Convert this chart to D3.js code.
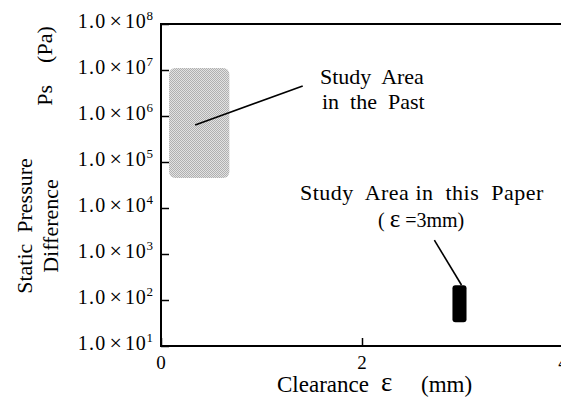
<!DOCTYPE html>
<html><head><meta charset="utf-8">
<script src="https://cdn.jsdelivr.net/npm/d3@7"></script>
<style>
html,body{margin:0;padding:0;background:#fff;}
svg{display:block;}
text{font-family:"Liberation Serif","Times New Roman",serif;fill:#000;}
</style></head>
<body>
<svg id="chart" width="561" height="397"></svg>
<script>
// ---- data ----
const xTicks = [0, 2, 4];
const yTickExps = [1, 2, 3, 4, 5, 6, 7, 8];
const pastArea = {x0: 0.08, x1: 0.68, y0: 4.5e4, y1: 1.1e7};
const paperArea = {x0: 2.90, x1: 3.04, y0: 33, y1: 210};
const pastLeader = [[0.34, 6.4e5], [1.41, 4.5e6]];
const paperLeader = [[2.72, 2.0e3], [2.99, 212]];
const pastLabel = ["Study  Area", "in  the  Past"];
const paperLabel = ["Study  Area in  this  Paper"];

const svg = d3.select("#chart");
const x = d3.scaleLinear().domain([0, 4]).range([161, 563]);
const y = d3.scaleLog().domain([1e1, 1e8]).range([346, 24]);

// pattern for dithered gray
const defs = svg.append("defs");
const pat = defs.append("pattern").attr("id", "dither")
  .attr("patternUnits", "userSpaceOnUse").attr("width", 2).attr("height", 2);
pat.append("rect").attr("width", 2).attr("height", 2).attr("fill", "#e2e2e2");
pat.append("rect").attr("width", 1).attr("height", 1).attr("fill", "#b0b0b0");
pat.append("rect").attr("x", 1).attr("y", 1).attr("width", 1).attr("height", 1).attr("fill", "#b0b0b0");

// areas
svg.append("rect")
  .attr("x", x(pastArea.x0)).attr("y", y(pastArea.y1))
  .attr("width", x(pastArea.x1) - x(pastArea.x0))
  .attr("height", y(pastArea.y0) - y(pastArea.y1))
  .attr("rx", 6).attr("fill", "url(#dither)");

svg.append("rect")
  .attr("x", x(paperArea.x0)).attr("y", y(paperArea.y1))
  .attr("width", x(paperArea.x1) - x(paperArea.x0))
  .attr("height", y(paperArea.y0) - y(paperArea.y1))
  .attr("rx", 3).attr("fill", "#000");

// leader lines
const line = d3.line().x(d => x(d[0])).y(d => y(d[1]));
svg.append("path").attr("d", line(pastLeader)).attr("stroke", "#000").attr("stroke-width", 1.6).attr("fill", "none");
svg.append("path").attr("d", line(paperLeader)).attr("stroke", "#000").attr("stroke-width", 1.6).attr("fill", "none");

// axes
const axisG = svg.append("g");
const yAxis = d3.axisRight(y).tickValues(yTickExps.map(e => Math.pow(10, e))).tickSize(8).tickFormat("");
const ya = axisG.append("g").attr("transform", "translate(161,0)").call(yAxis);
ya.select(".domain").remove();
ya.selectAll(".tick line").attr("stroke-width", 1.5);

const xAxis = d3.axisTop(x).tickValues(xTicks).tickSize(8).tickFormat("");
const xa = axisG.append("g").attr("transform", "translate(0,346)").call(xAxis);
xa.select(".domain").remove();
xa.selectAll(".tick line").attr("stroke-width", 1.5);

// frame lines
axisG.append("line").attr("x1", 161).attr("x2", 161).attr("y1", 23).attr("y2", 347).attr("stroke", "#000").attr("stroke-width", 2);
axisG.append("line").attr("x1", 160).attr("x2", 563).attr("y1", 346).attr("y2", 346).attr("stroke", "#000").attr("stroke-width", 2);
axisG.append("line").attr("x1", 160).attr("x2", 563).attr("y1", 24).attr("y2", 24).attr("stroke", "#000").attr("stroke-width", 2);

// y tick labels
yTickExps.forEach(e => {
  const t = svg.append("text").attr("x", 153).attr("y", y(Math.pow(10, e)) + 4)
    .attr("text-anchor", "end").attr("font-size", 20);
  t.append("tspan").attr("letter-spacing", 1.2).text("1.0");
  t.append("tspan").attr("dx", 3).attr("font-size", 22).text("\u00d7");
  t.append("tspan").attr("dx", 3).attr("letter-spacing", 0.8).text("10");
  t.append("tspan").attr("font-size", 13).attr("dy", -8).text(e);
});

// x tick labels
xTicks.forEach(v => {
  svg.append("text").attr("x", x(v)).attr("y", 369).attr("text-anchor", "middle")
    .attr("font-size", 19).text(v);
});

// x title
svg.append("text").attr("x", 277).attr("y", 392).attr("font-size", 23).text("Clearance");
svg.append("text").attr("x", 381).attr("y", 391).attr("font-size", 27).text("\u03b5");
svg.append("text").attr("x", 421).attr("y", 392).attr("font-size", 23).text("(mm)");

// y title
svg.append("text").attr("transform", "translate(52,66) rotate(-90)").attr("text-anchor", "middle")
  .attr("font-size", 22).attr("xml:space", "preserve").text("Ps    (Pa)");
svg.append("text").attr("transform", "translate(32,226) rotate(-90)").attr("text-anchor", "middle")
  .attr("font-size", 22).attr("xml:space", "preserve").text("Static  Pressure");
svg.append("text").attr("transform", "translate(58,226) rotate(-90)").attr("text-anchor", "middle")
  .attr("font-size", 22).text("Difference");

// annotations
svg.append("text").attr("x", 320).attr("y", 84).attr("font-size", 22).attr("xml:space", "preserve").text(pastLabel[0]);
svg.append("text").attr("x", 322).attr("y", 109).attr("font-size", 22).attr("xml:space", "preserve").text(pastLabel[1]);
svg.append("text").attr("x", 300).attr("y", 200).attr("font-size", 22).attr("letter-spacing", 0.5)
  .attr("xml:space", "preserve").text(paperLabel[0]);
const pl = svg.append("text").attr("x", 378).attr("y", 227).attr("font-size", 20).attr("xml:space", "preserve");
pl.append("tspan").text("( ");
pl.append("tspan").attr("font-size", 25).text("\u03b5");
pl.append("tspan").text(" =3mm)");
</script>
</body></html>
